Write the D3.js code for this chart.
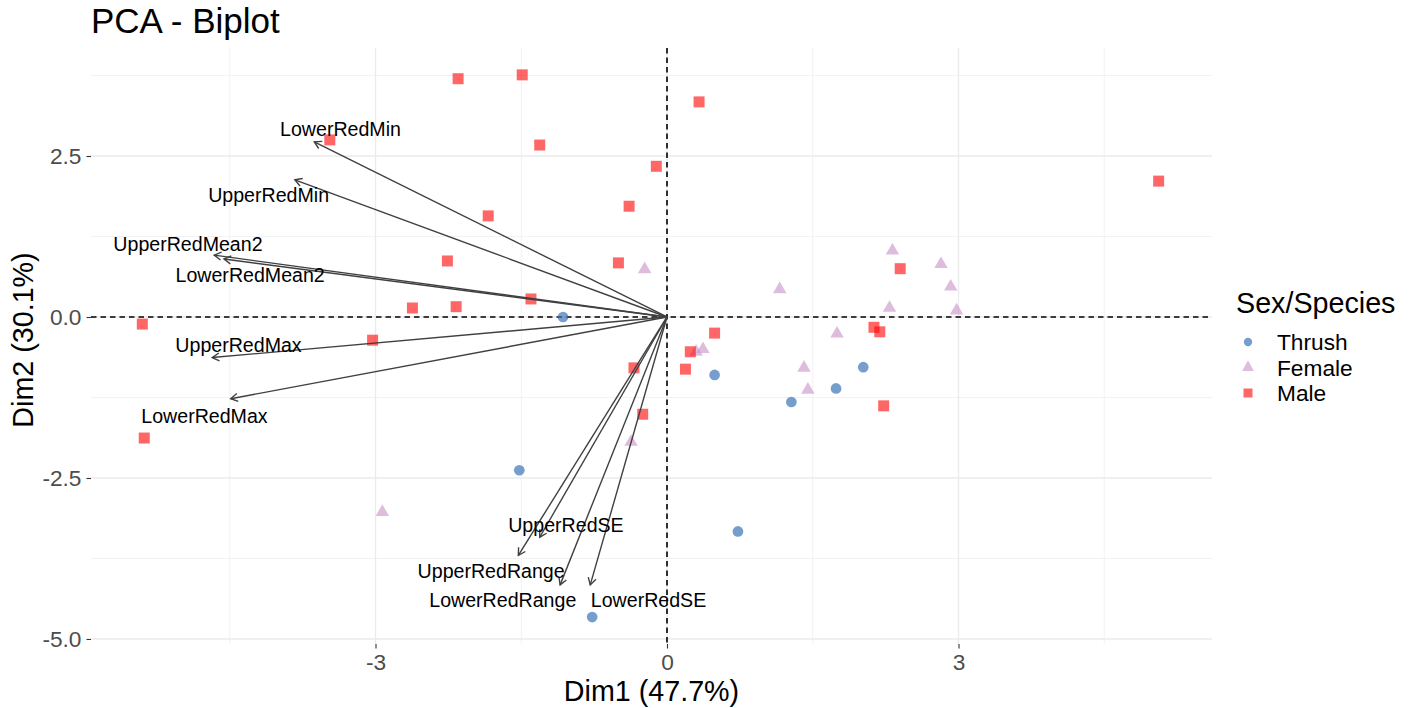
<!DOCTYPE html>
<html>
<head>
<meta charset="utf-8">
<script src="https://cdn.jsdelivr.net/npm/d3@7"></script>
<style>
  body { margin: 0; background: #fff; }
  svg text { font-family: "Liberation Sans", Arial, sans-serif; }
</style>
</head>
<body>
<svg id="chart" width="1412" height="708"></svg>
<script>
// Individuals: PCA coordinates per group
const thrushDim1 = [-1.07, 0.49, 2.02, 1.74, 1.28, -1.52, 0.73, -0.77];
const thrushDim2 = [0.00, -0.90, -0.78, -1.11, -1.32, -2.38, -3.33, -4.66];

const femaleDim1 = [-0.23, 1.16, 1.75, 2.32, 2.82, 2.92, 2.29, 2.98, 0.30, 0.37, 1.41, 1.45, -0.37, -2.93];
const femaleDim2 = [0.74, 0.43, -0.26, 1.03, 0.82, 0.47, 0.14, 0.10, -0.54, -0.50, -0.79, -1.13, -1.94, -3.03];

const maleDim1 = [-2.15, -1.49, 0.33, -3.47, -1.31, -0.11, 5.06, -1.84, -0.39, -2.26, -0.50, -1.40, -2.62,
                  -2.17, -5.40, -3.03, 0.49, 0.24, 0.19, -0.34, -0.25, -5.38, 2.40, 2.13, 2.19, 2.23];
const maleDim2 = [3.70, 3.76, 3.34, 2.75, 2.67, 2.34, 2.11, 1.57, 1.72, 0.87, 0.84, 0.28, 0.14,
                  0.16, -0.11, -0.36, -0.25, -0.54, -0.81, -0.79, -1.51, -1.88, 0.75, -0.16, -0.23, -1.38];

// Variables: loading arrows and where their labels sit
const varNames = ["LowerRedMin", "UpperRedMin", "UpperRedMean2", "LowerRedMean2", "UpperRedMax",
                  "LowerRedMax", "UpperRedSE", "UpperRedRange", "LowerRedRange", "LowerRedSE"];
const varDim1 = [-3.63, -3.83, -4.66, -4.56, -4.68, -4.49, -1.31, -1.53, -1.10, -0.79];
const varDim2 = [2.72, 2.13, 0.96, 0.90, -0.63, -1.27, -3.42, -3.70, -4.16, -4.16];
const labelDim1 = [-3.36, -4.10, -4.93, -4.29, -4.41, -4.76, -1.04, -1.81, -1.69, -0.19];
const labelDim2 = [2.92, 1.89, 1.14, 0.65, -0.43, -1.53, -3.23, -3.94, -4.39, -4.39];

const groupNames = ["Thrush", "Female", "Male"];
const xTicks = [-3, 0, 3];
const yTicks = [2.5, 0, -2.5, -5];
const xMinor = [-4.5, -1.5, 1.5, 4.5];
const yMinor = [3.75, 1.25, -1.25, -3.75];

const groups = [
  { name: "Thrush", xs: thrushDim1, ys: thrushDim2, shape: d3.symbolCircle, size: 90, fill: "#3A75B8", op: 0.7 },
  { name: "Female", xs: femaleDim1, ys: femaleDim2, shape: d3.symbolTriangle, size: 78, fill: "#C890C8", op: 0.6 },
  { name: "Male",   xs: maleDim1,   ys: maleDim2,   shape: d3.symbolSquare,   size: 121, fill: "#FF0000", op: 0.6 }
];

const svg = d3.select("#chart");
const panel = { left: 91, right: 1212, top: 48, bottom: 644 };

const x = d3.scaleLinear().domain([-5.928, 5.609]).range([panel.left, panel.right]);
const y = d3.scaleLinear().domain([4.177, -5.078]).range([panel.top, panel.bottom]);

// Grid
const grid = svg.append("g");
grid.selectAll(".vmin").data(xMinor).join("line")
  .attr("x1", d => x(d)).attr("x2", d => x(d))
  .attr("y1", panel.top).attr("y2", panel.bottom)
  .attr("stroke", "#F2F2F2").attr("stroke-width", 1);
grid.selectAll(".hmin").data(yMinor).join("line")
  .attr("y1", d => y(d)).attr("y2", d => y(d))
  .attr("x1", panel.left).attr("x2", panel.right)
  .attr("stroke", "#F2F2F2").attr("stroke-width", 1);
grid.selectAll(".vmaj").data(xTicks).join("line")
  .attr("x1", d => x(d)).attr("x2", d => x(d))
  .attr("y1", panel.top).attr("y2", panel.bottom)
  .attr("stroke", "#EBEBEB").attr("stroke-width", 1.3);
grid.selectAll(".hmaj").data(yTicks).join("line")
  .attr("y1", d => y(d)).attr("y2", d => y(d))
  .attr("x1", panel.left).attr("x2", panel.right)
  .attr("stroke", "#EBEBEB").attr("stroke-width", 1.3);

// Axes
const xAxis = d3.axisBottom(x).tickValues(xTicks).tickSize(4.5).tickPadding(5)
  .tickFormat(d3.format("d"));
const gx = svg.append("g").attr("transform", `translate(0,${panel.bottom})`).call(xAxis);
gx.select(".domain").remove();
gx.selectAll(".tick line").attr("stroke", "#333").attr("stroke-width", 1.1);
gx.selectAll(".tick text").attr("fill", "#4D4D4D").attr("font-size", 22.7)
  .attr("font-family", "Liberation Sans, Arial, sans-serif")
  .text(d => d < 0 ? "-" + Math.abs(d) : d);

const yAxis = d3.axisLeft(y).tickValues(yTicks).tickSize(4.5).tickPadding(5)
  .tickFormat(d3.format(".1f"));
const gy = svg.append("g").attr("transform", `translate(${panel.left},0)`).call(yAxis);
gy.select(".domain").remove();
gy.selectAll(".tick line").attr("stroke", "#333").attr("stroke-width", 1.1);
gy.selectAll(".tick text").attr("fill", "#4D4D4D").attr("font-size", 22.7)
  .attr("font-family", "Liberation Sans, Arial, sans-serif")
  .text(d => d3.format(".1f")(d).replace("−", "-"));

// Reference lines through the origin
svg.append("line")
  .attr("x1", panel.left).attr("x2", panel.right).attr("y1", y(0)).attr("y2", y(0))
  .attr("stroke", "#000").attr("stroke-width", 1.6).attr("stroke-dasharray", "5.5,4");
svg.append("line")
  .attr("x1", x(0)).attr("x2", x(0)).attr("y1", panel.top).attr("y2", panel.bottom)
  .attr("stroke", "#000").attr("stroke-width", 1.6).attr("stroke-dasharray", "5.5,4");

// Individuals
groups.forEach(g => {
  svg.append("g").selectAll("path").data(g.xs.map((v, i) => [v, g.ys[i]])).join("path")
    .attr("transform", d => `translate(${x(d[0])},${y(d[1])})`)
    .attr("d", d3.symbol().type(g.shape).size(g.size))
    .attr("fill", g.fill).attr("fill-opacity", g.op);
});

// Variable arrows
const arrows = svg.append("g").attr("stroke", "#404040").attr("stroke-width", 1.4).attr("fill", "none");
varNames.forEach((name, i) => {
  const x0 = x(0), y0 = y(0), x1 = x(varDim1[i]), y1 = y(varDim2[i]);
  arrows.append("line").attr("x1", x0).attr("y1", y0).attr("x2", x1).attr("y2", y1);
  const ang = Math.atan2(y1 - y0, x1 - x0);
  const len = 8, spread = Math.PI / 6;
  const a1 = ang + Math.PI - spread, a2 = ang + Math.PI + spread;
  arrows.append("path").attr("d",
    `M${x1 + len * Math.cos(a1)},${y1 + len * Math.sin(a1)}L${x1},${y1}L${x1 + len * Math.cos(a2)},${y1 + len * Math.sin(a2)}`);
});

svg.append("g").selectAll("text").data(varNames).join("text")
  .attr("x", (d, i) => x(labelDim1[i]))
  .attr("y", (d, i) => y(labelDim2[i]))
  .attr("dy", "0.36em")
  .attr("text-anchor", "middle")
  .attr("font-size", 19.6)
  .attr("fill", "#000")
  .text(d => d);

// Title and axis titles
svg.append("text").attr("x", 91).attr("y", 33).attr("font-size", 35).attr("fill", "#000")
  .text("PCA - Biplot");
svg.append("text").attr("x", (panel.left + panel.right) / 2).attr("y", 701)
  .attr("text-anchor", "middle").attr("font-size", 28.7).attr("fill", "#000")
  .text("Dim1 (47.7%)");
svg.append("text").attr("transform", "translate(33,340) rotate(-90)")
  .attr("text-anchor", "middle").attr("font-size", 28.7).attr("fill", "#000")
  .text("Dim2 (30.1%)");

// Legend
const legend = svg.append("g");
legend.append("text").attr("x", 1236).attr("y", 313).attr("font-size", 28.7).attr("fill", "#000")
  .text("Sex/Species");
const legendSizes = [55, 62, 81];
groupNames.forEach((name, i) => {
  const g = groups[i];
  const cy = 342 + i * 25.5;
  legend.append("path")
    .attr("transform", `translate(1248,${cy})`)
    .attr("d", d3.symbol().type(g.shape).size(legendSizes[i]))
    .attr("fill", g.fill).attr("fill-opacity", g.op);
  legend.append("text").attr("x", 1277).attr("y", cy).attr("dy", "0.36em")
    .attr("font-size", 22.7).attr("fill", "#000").text(name);
});
</script>
</body>
</html>
